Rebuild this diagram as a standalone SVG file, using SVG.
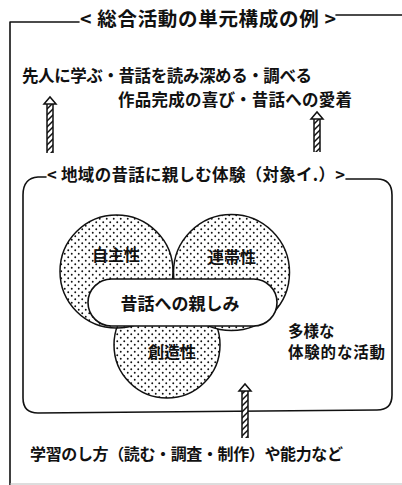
<svg xmlns="http://www.w3.org/2000/svg" width="402" height="485" viewBox="0 0 402 485">
<style>
text{font-family:"Noto Sans CJK JP","Noto Sans",sans-serif;fill:#111;font-weight:600}
.ln{fill:none;stroke:#111;stroke-width:1.6;stroke-linecap:round;stroke-linejoin:round}
.circ{fill:url(#dots);stroke:#111;stroke-width:1.5}
.pill{fill:#fff;stroke:#111;stroke-width:1.6}
.ahead{fill:#fff;stroke:#111;stroke-width:1.5;stroke-linejoin:miter}
.aline{fill:none;stroke:#111;stroke-width:1.5}
.shaft{fill:url(#hatch)}
.shaftbg{fill:#fff}
</style>
<defs>
<pattern id="dots" patternUnits="userSpaceOnUse" width="7" height="7">
<rect width="7" height="7" fill="#fff"/>
<circle cx="1.75" cy="1.75" r="0.95" fill="#111"/>
<circle cx="5.25" cy="5.25" r="0.95" fill="#111"/>
</pattern>
<pattern id="hatch" patternUnits="userSpaceOnUse" width="6" height="6">
<path d="M-1,7 L7,-1 M-1,1 L1,-1 M5,7 L7,5" stroke="#111" stroke-width="1.5" fill="none"/>
</pattern>
</defs>
<rect width="402" height="485" fill="#fff"/>

<g id="outer-frame">
<path class="ln" d="M79,22 L10,22 L10,485"/>
<path class="ln" d="M336,15 L402,15"/>
<path d="M10,484 L402,484" stroke="#bbb" stroke-width="1" fill="none"/>
<text x="80" y="26" font-size="19.5" textLength="256" lengthAdjust="spacing">&lt; 総合活動の単元構成の例 &gt;</text>
</g>

<g id="goals">
<text x="22" y="82" font-size="16.5" textLength="290" lengthAdjust="spacing">先人に学ぶ・昔話を読み深める・調べる</text>
<text x="118" y="105.5" font-size="16.5" textLength="234" lengthAdjust="spacing">作品完成の喜び・昔話への愛着</text>
</g>

<g id="experience-frame">
<path class="ln" d="M46,177 L38,177 Q23,178 23,195 L23,398 Q23,413 38,413 L377,410 Q392,410 392,395 L392,195 Q392,179 377,179 L346,179"/>
<text x="47" y="181" font-size="16.5" textLength="298" lengthAdjust="spacing">&lt; 地域の昔話に親しむ体験（対象イ.）&gt;</text>
</g>

<g id="node-souzousei">
<circle class="circ" cx="167" cy="345" r="53"/>
<text x="172" y="358" font-size="16" text-anchor="middle">創造性</text>
</g>
<g id="node-jishusei">
<circle class="circ" cx="116.5" cy="271.5" r="56.5"/>
<text x="116" y="261" font-size="16" text-anchor="middle">自主性</text>
</g>
<g id="node-rentaisei">
<circle class="circ" cx="231.5" cy="272.5" r="58"/>
<text x="232" y="263" font-size="16" text-anchor="middle">連帯性</text>
</g>
<g id="node-shitashimi">
<rect class="pill" x="88" y="279" width="189" height="47" rx="23.5"/>
<text x="180" y="309.5" font-size="17" text-anchor="middle">昔話への親しみ</text>
</g>

<g id="activities">
<text x="288" y="337" font-size="15.5">多様な</text>
<text x="288" y="357.5" font-size="15.5" textLength="97" lengthAdjust="spacing">体験的な活動</text>
</g>

<g id="basis">
<text x="30" y="460" font-size="16" textLength="313" lengthAdjust="spacing">学習のし方（読む・調査・制作）や能力など</text>
</g>

<g id="connectors">
<g id="arrow-left">
<rect class="shaftbg" x="47" y="104" width="6" height="49"/>
<rect class="shaft" x="47" y="104" width="6" height="49"/>
<path class="aline" d="M47,153 V104 M53,104 V153"/>
<path class="ahead" d="M47,104 H44 L50,97 L56,104 H53 Z"/>
</g>
<g id="arrow-right">
<rect class="shaftbg" x="314" y="119" width="6" height="33"/>
<rect class="shaft" x="314" y="119" width="6" height="33"/>
<path class="aline" d="M314,152 V119 M320,119 V152"/>
<path class="ahead" d="M314,119 H311 L317,112 L323,119 H320 Z"/>
</g>
<g id="arrow-bottom">
<rect class="shaftbg" x="242" y="391" width="6" height="47"/>
<rect class="shaft" x="242" y="391" width="6" height="47"/>
<path class="aline" d="M242,438 V391 M248,391 V438"/>
<path class="ahead" d="M242,391 H239 L245,384 L251,391 H248 Z"/>
</g>
</g>
</svg>
